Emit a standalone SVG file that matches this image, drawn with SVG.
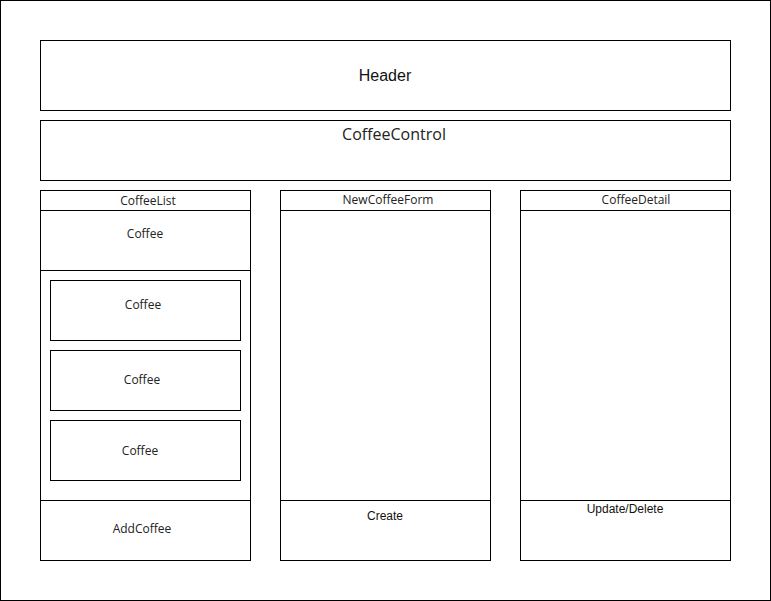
<svg xmlns="http://www.w3.org/2000/svg" width="771" height="601" viewBox="0 0 771 601">
<style>
rect, line { fill: #fff; stroke: #000; stroke-width: 1; }
line { fill: none; }
text { text-anchor: middle; fill: #222; }
.os { font-family: "Open Sans", "Liberation Sans", sans-serif; font-size: 12px; }
.big { font-size: 16px; }
.ar { font-family: "Liberation Sans", Arial, sans-serif; font-size: 12px; fill: #111; }
</style>
<rect x="0.5" y="0.5" width="770" height="600"/>
<g id="header">
<rect x="40.5" y="40.5" width="690" height="70"/>
<text class="ar" x="385" y="81" style="font-size:16px">Header</text>
</g>
<g id="coffeeControl">
<rect x="40.5" y="120.5" width="690" height="60"/>
<text class="os big" x="394" y="140">CoffeeControl</text>
</g>
<g id="coffeeList">
<rect x="40.5" y="190.5" width="210" height="370"/>
<line x1="40.5" y1="210.5" x2="250.5" y2="210.5"/>
<line x1="40.5" y1="270.5" x2="250.5" y2="270.5"/>
<line x1="40.5" y1="500.5" x2="250.5" y2="500.5"/>
<text class="os" x="148" y="205">CoffeeList</text>
<text class="os" x="145" y="238">Coffee</text>
<text class="os" x="142" y="533">AddCoffee</text>
</g>
<g id="coffee1">
<rect x="50.5" y="280.5" width="190" height="60"/>
<text class="os" x="143" y="309">Coffee</text>
</g>
<g id="coffee2">
<rect x="50.5" y="350.5" width="190" height="60"/>
<text class="os" x="142" y="384">Coffee</text>
</g>
<g id="coffee3">
<rect x="50.5" y="420.5" width="190" height="60"/>
<text class="os" x="140" y="455">Coffee</text>
</g>
<g id="newCoffeeForm">
<rect x="280.5" y="190.5" width="210" height="370"/>
<line x1="280.5" y1="210.5" x2="490.5" y2="210.5"/>
<line x1="280.5" y1="500.5" x2="490.5" y2="500.5"/>
<text class="os" x="388" y="204">NewCoffeeForm</text>
<text class="ar" x="385" y="520">Create</text>
</g>
<g id="coffeeDetail">
<rect x="520.5" y="190.5" width="210" height="370"/>
<line x1="520.5" y1="210.5" x2="730.5" y2="210.5"/>
<line x1="520.5" y1="500.5" x2="730.5" y2="500.5"/>
<text class="os" x="636" y="204">CoffeeDetail</text>
<text class="ar" x="625" y="513">Update/Delete</text>
</g>
<g id="connectors"/>
</svg>
